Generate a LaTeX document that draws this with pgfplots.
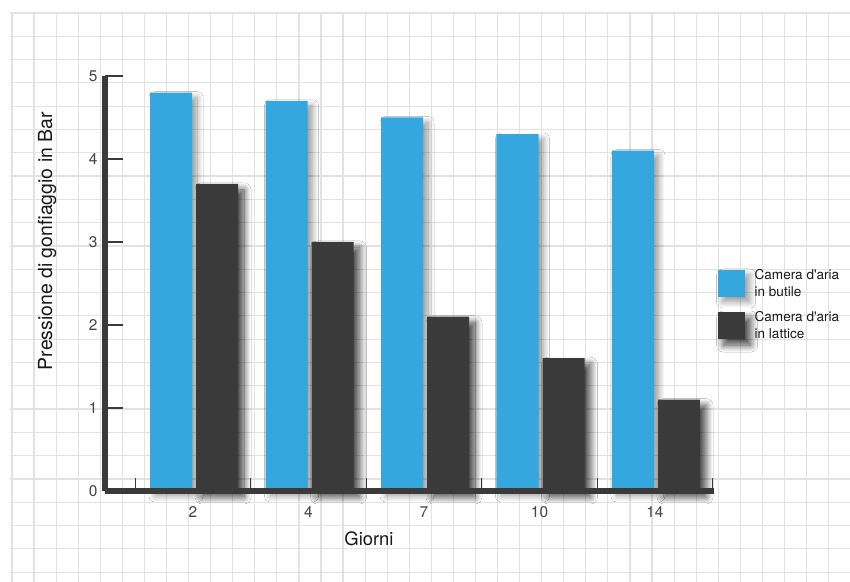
\documentclass[border=0pt]{standalone}
\usepackage{pgfplots}
\pgfplotsset{compat=1.18}
\usepackage{fontspec}
\setmainfont{TeX Gyre Heros}[Ligatures=TeXOff]
\usetikzlibrary{shadows.blur}

\definecolor{butile}{HTML}{34A7DF}
\definecolor{lattice}{HTML}{3A3A3A}
\definecolor{axisdark}{HTML}{3A3A3A}
\definecolor{paper}{HTML}{E2E2E2}
\definecolor{ticktext}{HTML}{444444}

\begin{document}
\begin{tikzpicture}[x=1bp,y=1bp]
% squared paper behind the chart
\fill[white] (0,0) rectangle (850,582);
\foreach \k in {0,...,37}
  \draw[paper, line width=1.2bp] ({12+22.07*\k},0) -- ({12+22.07*\k},569);
\foreach \k in {0,...,24}
  \draw[paper, line width=1.2bp] (10,{569-23.3*\k}) -- (850,{569-23.3*\k});

\begin{axis}[
  at={(105bp,91bp)}, anchor=south west,
  scale only axis, width=609bp, height=415bp,
  xmin=-0.762, xmax=4.511, ymin=0, ymax=5,
  clip=false,
  axis on top,
  axis x line*=bottom, axis y line*=left,
  axis line style={axisdark, line width=6.5bp},
  ybar, bar width=42bp,
  xtick={0,1,2,3,4}, xticklabels={2,4,7,10,14},
  minor xtick={-0.5,0.5,1.5,2.5,3.5,4.5},
  ytick={0,1,2,3,4,5},
  tick align=inside,
  major tick length=18bp, minor tick length=13bp,
  every major x tick/.append style={draw=none},
  every major y tick/.append style={line width=2.7bp, axisdark},
  every minor x tick/.append style={line width=1bp, axisdark},
  /pgf/number format/assume math mode=true,
  ticklabel style={font=\fontsize{15.5}{18}\selectfont, text=ticktext},
  yticklabel style={xshift=-4bp},
  xticklabel style={yshift=-12bp},
  xlabel={Giorni}, ylabel={Pressione di gonfiaggio in Bar},
  every axis x label/.style={at={(axis description cs:0.4335,-0.1157)}, anchor=center,
    font=\fontsize{18.5}{22}\selectfont, text=black!90},
  every axis y label/.style={at={(axis description cs:-0.0952,0.602)}, rotate=90, anchor=center,
    font=\fontsize{19.5}{22}\selectfont, text=black!90},
  legend style={at={(axis description cs:1.006,0.535)}, anchor=north west,
    draw=none, fill=none, inner sep=0pt, outer sep=0pt,
    font=\fontsize{13.6}{17.5}\selectfont,
    nodes={align=left, inner sep=0pt, text=black!90},
    row sep=13bp},
  legend cell align=left,
  legend image code/.code={\fill[#1] (0bp,-13.5bp) rectangle (27bp,13.5bp); \path (37bp,0bp);},
]
\addplot[fill=butile, draw=none, bar shift=-22bp,
  blur shadow={shadow xshift=5bp, shadow yshift=-5bp, shadow blur radius=6bp,
    shadow blur steps=14, shadow blur extra rounding=0bp, shadow opacity=40}]
  coordinates {(0,4.8) (1,4.7) (2,4.5) (3,4.3) (4,4.1)};
\addplot[fill=lattice, draw=none, bar shift=24bp,
  blur shadow={shadow xshift=6bp, shadow yshift=-6bp, shadow blur radius=7bp,
    shadow blur steps=14, shadow blur extra rounding=0bp, shadow opacity=75}]
  coordinates {(0,3.7) (1,3.0) (2,2.1) (3,1.6) (4,1.1)};
\legend{{Camera d'aria\\in butile},{Camera d'aria\\in lattice}}
\end{axis}
\pgfresetboundingbox
\useasboundingbox (0,0) rectangle (850,582);
\end{tikzpicture}
\end{document}
